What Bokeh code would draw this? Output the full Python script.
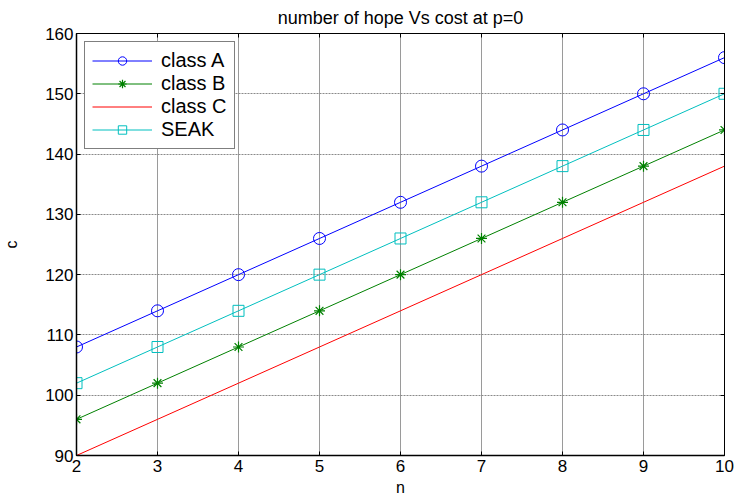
from bokeh.plotting import figure
from bokeh.models import Range1d, LinearAxis, FixedTicker, Legend, LegendItem
from bokeh.embed import file_html
from bokeh.resources import INLINE

n = [2, 3, 4, 5, 6, 7, 8, 9, 10]
class_a = [108, 114, 120, 126, 132, 138, 144, 150, 156]
class_b = [96, 102, 108, 114, 120, 126, 132, 138, 144]
class_c = [90, 96, 102, 108, 114, 120, 126, 132, 138]
seak = [102, 108, 114, 120, 126, 132, 138, 144, 150]
x_ticks = [2, 3, 4, 5, 6, 7, 8, 9, 10]
y_ticks = [90, 100, 110, 120, 130, 140, 150, 160]

FONT = "Liberation Sans"

p = figure(width=737, height=499, output_backend="svg", toolbar_location=None,
           x_range=Range1d(2, 10), y_range=Range1d(90, 160),
           min_border_left=75, min_border_right=13, min_border_top=33, min_border_bottom=44,
           background_fill_color="white", border_fill_color="white",
           title="number of hope Vs cost at p=0")
p.title.align = "center"
p.title.text_font = FONT
p.title.text_font_size = "18px"
p.title.text_font_style = "normal"
p.title.text_color = "black"
p.title.standoff = 11
p.outline_line_color = "black"
p.outline_line_width = 1

for ax in (p.xaxis[0], p.yaxis[0]):
    ax.major_tick_in = 4
    ax.major_tick_out = 0
    ax.minor_tick_in = 0
    ax.minor_tick_out = 0
    ax.axis_line_color = "black"
    ax.axis_line_width = 1.5
    ax.major_label_text_font = FONT
    ax.major_label_text_font_size = "17px"
    ax.major_label_text_color = "black"
    ax.axis_label_text_font = FONT
    ax.axis_label_text_font_size = "16px"
    ax.axis_label_text_font_style = "normal"
    ax.axis_label_text_color = "black"
p.xaxis[0].ticker = FixedTicker(ticks=x_ticks)
p.yaxis[0].ticker = FixedTicker(ticks=y_ticks)
p.xaxis[0].axis_label = "n"
p.yaxis[0].axis_label = "c"
p.xaxis[0].major_label_standoff = 4
p.xaxis[0].axis_label_standoff = 4
p.yaxis[0].major_label_standoff = 3
p.yaxis[0].axis_label_standoff = 22

top = LinearAxis(ticker=FixedTicker(ticks=x_ticks), major_tick_in=4, major_tick_out=0,
                 minor_tick_in=0, minor_tick_out=0,
                 major_label_overrides={t: "" for t in x_ticks},
                 major_label_standoff=0, axis_line_color="black")
right = LinearAxis(ticker=FixedTicker(ticks=y_ticks), major_tick_in=4, major_tick_out=0,
                   minor_tick_in=0, minor_tick_out=0,
                   major_label_overrides={t: "" for t in y_ticks},
                   major_label_standoff=0, axis_line_color="black")
p.add_layout(top, "above")
p.add_layout(right, "right")

p.xgrid.ticker = FixedTicker(ticks=x_ticks)
p.ygrid.ticker = FixedTicker(ticks=y_ticks)
p.xgrid.grid_line_color = "#9a9a9a"
p.ygrid.grid_line_color = "#8a8a8a"
p.xgrid.grid_line_width = 1
p.ygrid.grid_line_width = 1
p.ygrid.grid_line_dash = "2 1"

blue = "#0000FF"
green = "#008000"
red = "#FF0000"
cyan = "#00BFBF"

la = p.line(n, class_a, line_color=blue, line_width=1)
sa = p.scatter(n, class_a, marker="circle", size=12, fill_color=None, line_color=blue, line_width=1)
lb = p.line(n, class_b, line_color=green, line_width=1)
sb = p.scatter(n, class_b, marker="asterisk", size=11, line_color=green, line_width=1.2)
lc = p.line(n, class_c, line_color=red, line_width=1)
ls = p.line(n, seak, line_color=cyan, line_width=1)
ss = p.scatter(n, seak, marker="square", size=11, fill_color=None, line_color=cyan, line_width=1)

legend = Legend(items=[
    LegendItem(label="class A", renderers=[la, sa]),
    LegendItem(label="class B", renderers=[lb, sb]),
    LegendItem(label="class C", renderers=[lc]),
    LegendItem(label="SEAK", renderers=[ls, ss]),
], location="top_left")
legend.margin = 8
legend.padding = 7
legend.spacing = 0
legend.glyph_width = 60
legend.glyph_height = 21
legend.label_standoff = 9
legend.label_height = 21
legend.label_text_font = FONT
legend.label_text_font_size = "20px"
legend.label_text_color = "black"
legend.border_line_color = "black"
legend.border_line_width = 1
legend.background_fill_color = "white"
legend.background_fill_alpha = 1
p.add_layout(legend, "center")

open("out.html", "w").write(file_html(p, INLINE))
